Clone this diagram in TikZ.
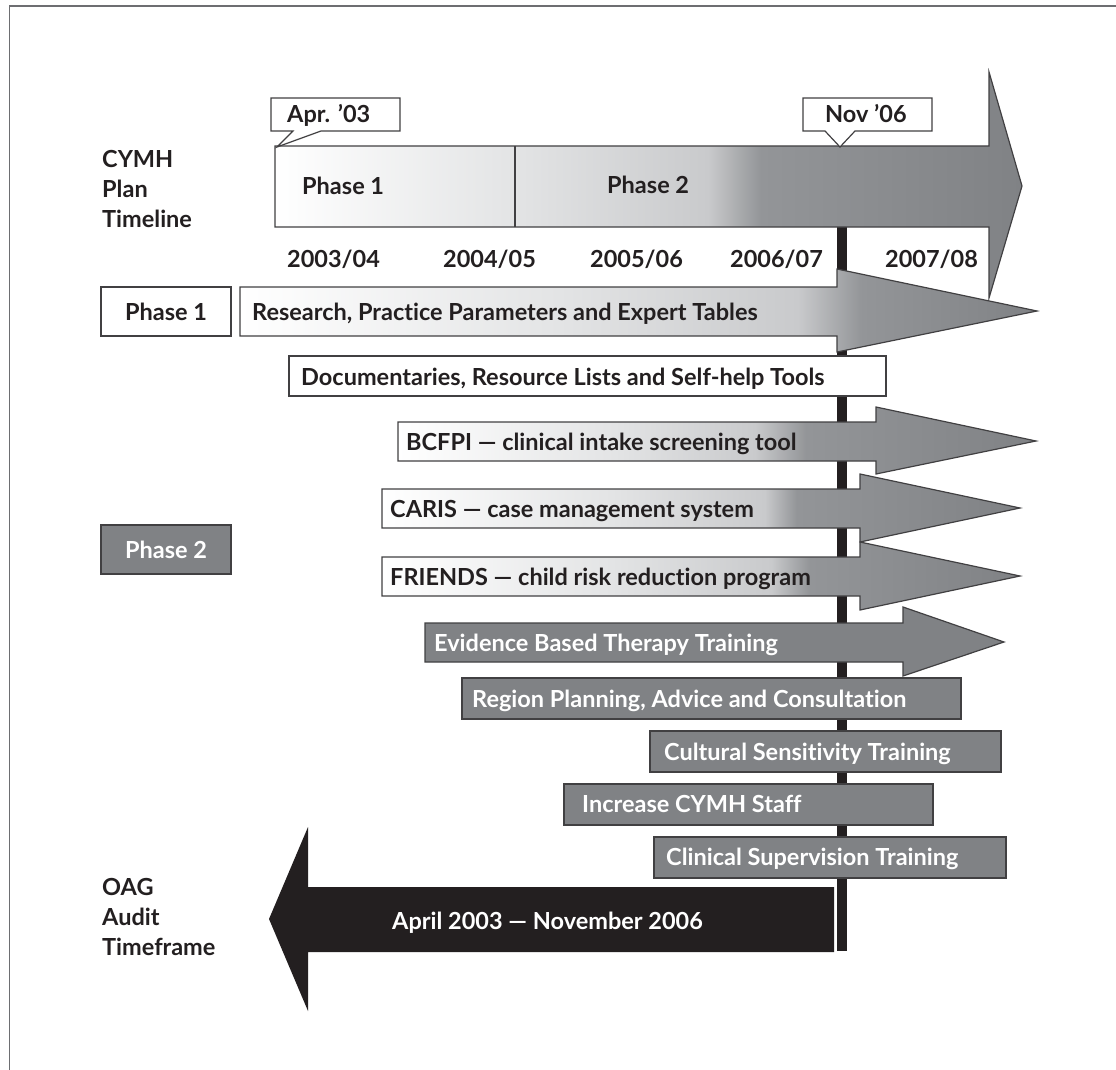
\documentclass[tikz,border=0pt]{standalone}
\usepackage{fontspec}
\setmainfont{Lato}[Ligatures=NoCommon]
\definecolor{ink}{HTML}{231F20}
\definecolor{edge}{HTML}{414042}
\definecolor{midgray}{HTML}{808285}
\definecolor{framegray}{HTML}{6D6E71}
\definecolor{ga}{HTML}{E3E4E5}
\definecolor{gb}{HTML}{C9CACC}
\definecolor{gc}{HTML}{939598}
\pgfdeclarehorizontalshading{topshade}{100bp}{color(0bp)=(white); color(25bp)=(white); color(41bp)=(ga); color(54bp)=(gb); color(57.5bp)=(gc); color(75bp)=(midgray); color(100bp)=(midgray)}
\pgfdeclarehorizontalshading{resshade}{100bp}{color(0bp)=(white); color(25bp)=(white); color(45bp)=(ga); color(60bp)=(gb); color(64bp)=(gc); color(75bp)=(midgray); color(100bp)=(midgray)}
\pgfdeclarehorizontalshading{bcshade}{100bp}{color(0bp)=(white); color(25bp)=(white); color(42bp)=(ga); color(53bp)=(gb); color(57bp)=(gc); color(75bp)=(midgray); color(100bp)=(midgray)}
\pgfdeclarehorizontalshading{cashade}{100bp}{color(0bp)=(white); color(25bp)=(white); color(43bp)=(ga); color(55bp)=(gb); color(57.5bp)=(gc); color(75bp)=(midgray); color(100bp)=(midgray)}
\pgfdeclarehorizontalshading{frshade}{100bp}{color(0bp)=(white); color(25bp)=(white); color(43bp)=(ga); color(55.5bp)=(gb); color(58.5bp)=(gc); color(75bp)=(midgray); color(100bp)=(midgray)}
\begin{document}
\begin{tikzpicture}[x=1pt,y=-1pt,
  font=\fontsize{23.5}{30}\selectfont\bfseries,
  outl/.style={draw=edge, line width=1.2pt},
  whitebox/.style={outl, fill=white},
  graybox/.style={outl, fill=midgray},
  txt/.style={anchor=base west, inner sep=0pt, text=ink},
  wtxt/.style={txt, text=white},
  lbl/.style={anchor=north west, inner sep=0pt, align=left, text=ink}]
\useasboundingbox (0,0) rectangle (1116,1070);
% frame
\draw[framegray, line width=1.5pt] (9.6,1080) -- (9.6,6) -- (1125,6);
% left labels
\node[lbl] (cymh) at (102,150) {CYMH\\Plan\\Timeline};
\node[lbl] (oag) at (102,878) {OAG\\Audit\\Timeframe};
% Nov 06 vertical bar
\fill[ink] (837,227) rectangle (847,951);
% top timeline arrow
\path[shading=topshade, outl] (275,146) -- (989,146) -- (989,72) -- (1022,186) -- (989,298) -- (989,227) -- (275,227) -- cycle;
\draw[outl] (515,146) -- (515,227);
\node[txt] (tp1) at (302,194) {Phase 1};
\node[txt] (tp2) at (607,193) {Phase 2};
% callouts
\path[whitebox, line join=miter] (271,98) -- (400,98) -- (400,131) -- (321,131) -- (277,147) -- (293,131) -- (271,131) -- cycle;
\node[txt] (apr) at (287,123) {Apr. ’03};
\path[whitebox, line join=miter] (803,98) -- (932,98) -- (932,131) -- (855,131) -- (840,147) -- (825,131) -- (803,131) -- cycle;
\node[txt] (nov) at (825,123) {Nov ’06};
% years
\node[txt] (y1) at (287,267) {2003/04};
\node[txt] (y2) at (443,267) {2004/05};
\node[txt] (y3) at (590,267) {2005/06};
\node[txt] (y4) at (730,267) {2006/07};
\node[txt] (y5) at (885,267) {2007/08};
% phase boxes
\draw[whitebox] (101,287) rectangle (231,336);
\node[inner sep=0pt, text=ink] (ph1) at (166,311.5) {Phase 1};
\draw[graybox] (101,525) rectangle (231,574);
\node[inner sep=0pt, text=white] (ph2) at (166,549.5) {Phase 2};
% research arrow
\path[shading=resshade, outl] (240,287) -- (837,287) -- (837,269) -- (1037,311) -- (837,352) -- (837,336) -- (240,336) -- cycle;
\node[txt] (res) at (252,320) {Research, Practice Parameters and Expert Tables};
% documentaries
\draw[whitebox] (289,356) rectangle (886,396);
\node[txt] (doc) at (301,385) {Documentaries, Resource Lists and Self-help Tools};
% BCFPI
\path[shading=bcshade, outl] (398,422) -- (876,422) -- (876,407) -- (1036,441) -- (876,474) -- (876,461) -- (398,461) -- cycle;
\node[txt] (bcf) at (406,450) {BCFPI — clinical intake screening tool};
% CARIS
\path[shading=cashade, outl] (382,489) -- (860,489) -- (860,474) -- (1020,508) -- (860,542) -- (860,528) -- (382,528) -- cycle;
\node[txt] (car) at (390,517) {CARIS — case management system};
% FRIENDS
\path[shading=frshade, outl] (382,557) -- (860,557) -- (860,542) -- (1020,576) -- (860,610) -- (860,596) -- (382,596) -- cycle;
\node[txt] (fri) at (390,585) {FRIENDS — child risk reduction program};
% Evidence
\path[graybox] (425,623) -- (903,623) -- (903,607) -- (1004,642) -- (903,676) -- (903,662) -- (425,662) -- cycle;
\node[wtxt] (evi) at (434,651) {Evidence Based Therapy Training};
% gray boxes
\draw[graybox] (462,678) rectangle (961,719);
\node[wtxt] (reg) at (472,707) {Region Planning, Advice and Consultation};
\draw[graybox] (650,731) rectangle (1001,772);
\node[wtxt] (cul) at (664,760) {Cultural Sensitivity Training};
\draw[graybox] (564,784) rectangle (933,825);
\node[wtxt] (inc) at (582,812) {Increase CYMH Staff};
\draw[graybox] (654,837) rectangle (1006,878);
\node[wtxt] (cli) at (666,865) {Clinical Supervision Training};
% OAG black arrow
\fill[ink] (834,887) -- (308,887) -- (308,827) -- (269,919) -- (308,1011) -- (308,952) -- (834,952) -- cycle;
\node[wtxt] (aud) at (392,929) {April 2003 — November 2006};
\end{tikzpicture}
\end{document}
